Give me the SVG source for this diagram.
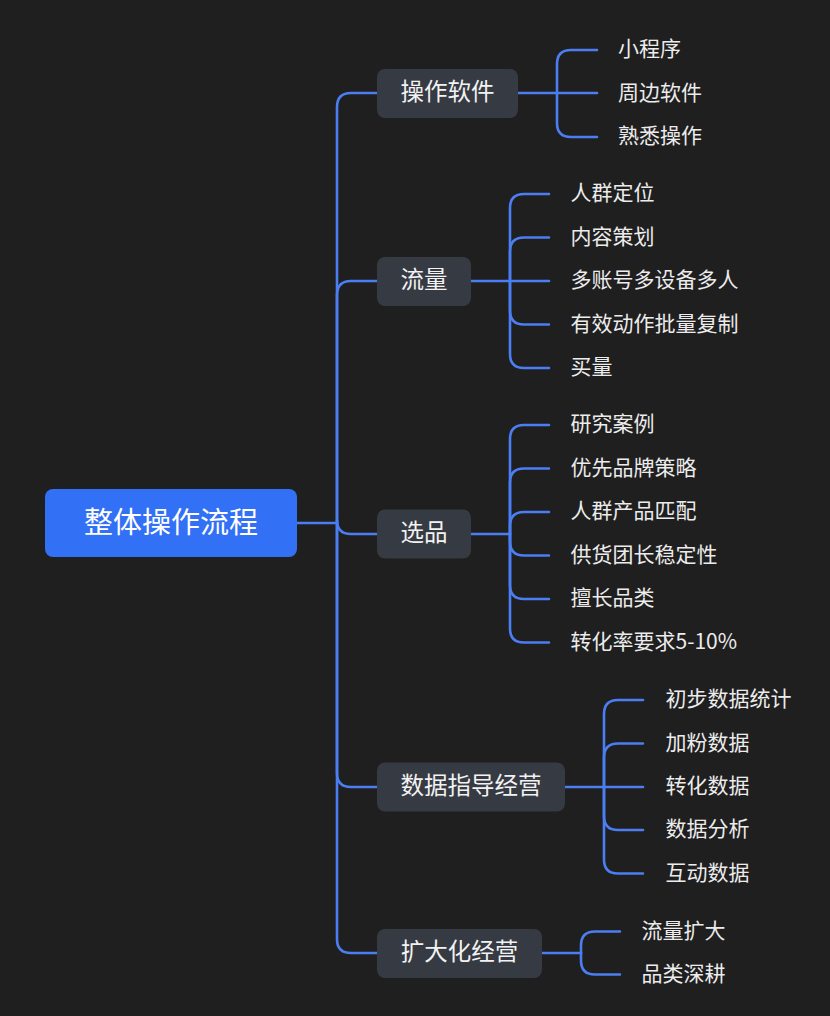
<svg xmlns="http://www.w3.org/2000/svg" width="830" height="1016" viewBox="0 0 830 1016">
<style>
.bg{fill:#1f1f1f}
.c{fill:none;stroke:#4b7ef2;stroke-width:2.6;stroke-linecap:round;stroke-linejoin:round}
.node{fill:#363a42}
.root{fill:#3271f5}
.t{font-family:"Noto Sans CJK SC","Noto Sans",sans-serif;dominant-baseline:central}
.rt{font-size:29px;fill:#ffffff;text-anchor:middle}
.nt{font-size:23.5px;fill:#f2f2f2;text-anchor:middle}
.lt{font-size:21px;fill:#ececec}
</style>
<rect class="bg" x="0" y="0" width="830" height="1016"/>
<g id="connectors">
<path class="c" d="M297,523 H337"/>
<path class="c" d="M337,523 V107 Q337,93 351,93 H377"/>
<path class="c" d="M337,523 V295 Q337,281 351,281 H377"/>
<path class="c" d="M337,520 Q337,534 351,534 H377"/>
<path class="c" d="M337,523 V773 Q337,787 351,787 H377"/>
<path class="c" d="M337,523 V939 Q337,953 351,953 H377"/>
<path class="c" d="M518,93 H597"/>
<path class="c" d="M557,93 V64 Q557,50 571,50 H597"/>
<path class="c" d="M557,93 V123 Q557,137 571,137 H597"/>
<path class="c" d="M471,281 H549"/>
<path class="c" d="M510,281 V208 Q510,194 524,194 H549"/>
<path class="c" d="M510,281 V251.5 Q510,237.5 524,237.5 H549"/>
<path class="c" d="M510,281 V310.5 Q510,324.5 524,324.5 H549"/>
<path class="c" d="M510,281 V354 Q510,368 524,368 H549"/>
<path class="c" d="M471,534 H510"/>
<path class="c" d="M510,534 V439 Q510,425 524,425 H549"/>
<path class="c" d="M510,534 V482.5 Q510,468.5 524,468.5 H549"/>
<path class="c" d="M510,534 V526 Q510,512 524,512 H549"/>
<path class="c" d="M510,534 V541.5 Q510,555.5 524,555.5 H549"/>
<path class="c" d="M510,534 V585 Q510,599 524,599 H549"/>
<path class="c" d="M510,534 V628.5 Q510,642.5 524,642.5 H549"/>
<path class="c" d="M565,787 H643"/>
<path class="c" d="M604,787 V714 Q604,700 618,700 H643"/>
<path class="c" d="M604,787 V757.5 Q604,743.5 618,743.5 H643"/>
<path class="c" d="M604,787 V816 Q604,830 618,830 H643"/>
<path class="c" d="M604,787 V859.5 Q604,873.5 618,873.5 H643"/>
<path class="c" d="M542,953 H581"/>
<path class="c" d="M581,953 V945.5 Q581,931.5 595,931.5 H620"/>
<path class="c" d="M581,953 V960.5 Q581,974.5 595,974.5 H620"/>
</g>
<g id="root">
<rect class="root" x="45" y="489" width="252" height="68" rx="8"/>
<text class="t rt" x="171" y="519.5">整体操作流程</text>
</g>
<g id="n1">
<rect class="node" x="377" y="69" width="141" height="49" rx="8"/>
<text class="t nt" x="447.5" y="90">操作软件</text>
</g>
<g id="n1c1"><text class="t lt" x="618" y="47">小程序</text></g>
<g id="n1c2"><text class="t lt" x="618" y="90.5">周边软件</text></g>
<g id="n1c3"><text class="t lt" x="618" y="134">熟悉操作</text></g>
<g id="n2">
<rect class="node" x="377" y="257" width="94" height="49" rx="8"/>
<text class="t nt" x="424" y="278">流量</text>
</g>
<g id="n2c1"><text class="t lt" x="570.5" y="191">人群定位</text></g>
<g id="n2c2"><text class="t lt" x="570.5" y="234.5">内容策划</text></g>
<g id="n2c3"><text class="t lt" x="570.5" y="278">多账号多设备多人</text></g>
<g id="n2c4"><text class="t lt" x="570.5" y="321.5">有效动作批量复制</text></g>
<g id="n2c5"><text class="t lt" x="570.5" y="365">买量</text></g>
<g id="n3">
<rect class="node" x="377" y="509.5" width="94" height="49" rx="8"/>
<text class="t nt" x="424" y="530.5">选品</text>
</g>
<g id="n3c1"><text class="t lt" x="570.5" y="422">研究案例</text></g>
<g id="n3c2"><text class="t lt" x="570.5" y="465.5">优先品牌策略</text></g>
<g id="n3c3"><text class="t lt" x="570.5" y="509">人群产品匹配</text></g>
<g id="n3c4"><text class="t lt" x="570.5" y="552.5">供货团长稳定性</text></g>
<g id="n3c5"><text class="t lt" x="570.5" y="596">擅长品类</text></g>
<g id="n3c6"><text class="t lt" x="570.5" y="639.5">转化率要求5-10%</text></g>
<g id="n4">
<rect class="node" x="377" y="762.5" width="188" height="49" rx="8"/>
<text class="t nt" x="471" y="783.5">数据指导经营</text>
</g>
<g id="n4c1"><text class="t lt" x="665.5" y="697">初步数据统计</text></g>
<g id="n4c2"><text class="t lt" x="665.5" y="740.5">加粉数据</text></g>
<g id="n4c3"><text class="t lt" x="665.5" y="784">转化数据</text></g>
<g id="n4c4"><text class="t lt" x="665.5" y="827">数据分析</text></g>
<g id="n4c5"><text class="t lt" x="665.5" y="870.5">互动数据</text></g>
<g id="n5">
<rect class="node" x="377" y="929" width="165" height="49" rx="8"/>
<text class="t nt" x="459.5" y="950">扩大化经营</text>
</g>
<g id="n5c1"><text class="t lt" x="641.5" y="928.5">流量扩大</text></g>
<g id="n5c2"><text class="t lt" x="641.5" y="971.5">品类深耕</text></g>
</svg>
